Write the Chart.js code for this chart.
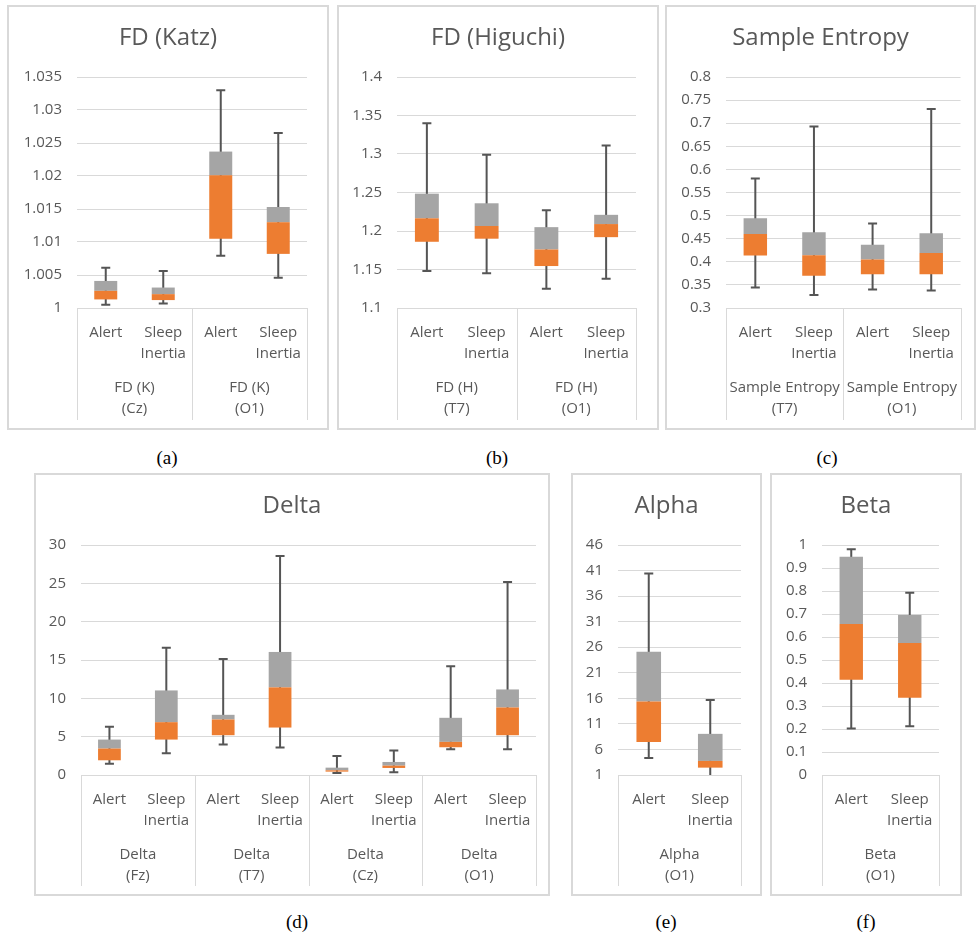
<!DOCTYPE html>
<html lang="en">
<head>
  <meta charset="UTF-8">
  <title>EEG features: Alert vs Sleep Inertia</title>
  <script src="https://cdn.jsdelivr.net/npm/chart.js"></script>
  <style>
    body {
      margin: 0;
      width: 977px;
      height: 936px;
      position: relative;
      overflow: hidden;
      background: #fff;
    }

    /* Excel-like chart frames */
    .panel {
      position: absolute;
      box-sizing: border-box;
      border: 2px solid #d9d9d9;
    }

    .panel canvas {
      position: absolute;
      left: 0;
      top: 0;
    }

    .caption {
      position: absolute;
      width: 60px;
      margin-left: -30px;
      text-align: center;
      font-family: 'Liberation Serif', 'Times New Roman', serif;
      font-size: 19px;
      line-height: 22px;
      color: #000;
    }
  </style>
</head>
<body>

  <div class="panel" style="left:7px; top:5px; width:322px; height:425px;"><canvas id="katzChart"></canvas></div>
  <div class="panel" style="left:337px; top:5px; width:322px; height:425px;"><canvas id="higuchiChart"></canvas></div>
  <div class="panel" style="left:665px; top:5px; width:311px; height:425px;"><canvas id="entropyChart"></canvas></div>
  <div class="panel" style="left:34px; top:473px; width:516px; height:423px;"><canvas id="deltaChart"></canvas></div>
  <div class="panel" style="left:571px; top:473px; width:191px; height:423px;"><canvas id="alphaChart"></canvas></div>
  <div class="panel" style="left:770px; top:473px; width:192px; height:423px;"><canvas id="betaChart"></canvas></div>

  <div class="caption" style="left:167px; top:447px;">(a)</div>
  <div class="caption" style="left:497px; top:447px;">(b)</div>
  <div class="caption" style="left:827px; top:447px;">(c)</div>
  <div class="caption" style="left:297px; top:911px;">(d)</div>
  <div class="caption" style="left:666px; top:911px;">(e)</div>
  <div class="caption" style="left:866px; top:911px;">(f)</div>

  <script>
    // condition labels under every box
    const conditionLabels = ['Alert', ['Sleep', 'Inertia']];

    // (a) FD (Katz)
    const katzGroups = [['FD (K)', '(Cz)'], ['FD (K)', '(O1)']];
    const katzMin = [1.0005, 1.0007, 1.0079, 1.0046];
    const katzQ1 = [1.0013, 1.0012, 1.0105, 1.0082];
    const katzMed = [1.0026, 1.0021, 1.0201, 1.0130];
    const katzQ3 = [1.0041, 1.0031, 1.0237, 1.0153];
    const katzMax = [1.0061, 1.0056, 1.0330, 1.0265];
    const katzTicks = [1, 1.005, 1.01, 1.015, 1.02, 1.025, 1.03, 1.035];

    // (b) FD (Higuchi)
    const higuchiGroups = [['FD (H)', '(T7)'], ['FD (H)', '(O1)']];
    const higuchiMin = [1.148, 1.145, 1.125, 1.138];
    const higuchiQ1 = [1.186, 1.190, 1.1545, 1.192];
    const higuchiMed = [1.2165, 1.2065, 1.176, 1.209];
    const higuchiQ3 = [1.2485, 1.236, 1.205, 1.221];
    const higuchiMax = [1.340, 1.299, 1.227, 1.311];
    const higuchiTicks = [1.1, 1.15, 1.2, 1.25, 1.3, 1.35, 1.4];

    // (c) Sample Entropy
    const entropyGroups = [['Sample Entropy', '(T7)'], ['Sample Entropy', '(O1)']];
    const entropyMin = [0.3445, 0.328, 0.340, 0.338];
    const entropyQ1 = [0.4135, 0.370, 0.373, 0.373];
    const entropyMed = [0.460, 0.414, 0.405, 0.419];
    const entropyQ3 = [0.494, 0.464, 0.437, 0.462];
    const entropyMax = [0.5805, 0.693, 0.483, 0.731];
    const entropyTicks = [0.3, 0.35, 0.4, 0.45, 0.5, 0.55, 0.6, 0.65, 0.7, 0.75, 0.8];

    // (d) Delta
    const deltaGroups = [['Delta', '(Fz)'], ['Delta', '(T7)'], ['Delta', '(Cz)'], ['Delta', '(O1)']];
    const deltaMin = [1.48, 2.83, 3.97, 3.58, 0.26, 0.35, 3.36, 3.36];
    const deltaQ1 = [1.92, 4.62, 5.19, 6.19, 0.44, 0.92, 3.62, 5.19];
    const deltaMed = [3.45, 6.89, 7.24, 11.43, 0.61, 1.22, 4.32, 8.81];
    const deltaQ3 = [4.62, 11.03, 7.85, 16.05, 0.96, 1.70, 7.46, 11.16];
    const deltaMax = [6.28, 16.6, 15.13, 28.56, 2.49, 3.18, 14.17, 25.16];
    const deltaTicks = [0, 5, 10, 15, 20, 25, 30];

    // (e) Alpha
    const alphaGroups = [['Alpha', '(O1)']];
    const alphaMin = [4.34, 0.5];
    const alphaQ1 = [7.48, 2.44];
    const alphaMed = [15.4, 3.75];
    const alphaQ3 = [25.1, 9.05];
    const alphaMax = [40.4, 15.67];
    const alphaTicks = [1, 6, 11, 16, 21, 26, 31, 36, 41, 46];

    // (f) Beta
    const betaGroups = [['Beta', '(O1)']];
    const betaMin = [0.202, 0.212];
    const betaQ1 = [0.414, 0.336];
    const betaMed = [0.657, 0.574];
    const betaQ3 = [0.949, 0.696];
    const betaMax = [0.981, 0.792];
    const betaTicks = [0, 0.1, 0.2, 0.3, 0.4, 0.5, 0.6, 0.7, 0.8, 0.9, 1];

    const FONT = "'Open Sans', 'Noto Sans', sans-serif";
    const TEXT = '#595959';
    const LINE = '#d9d9d9';

    // whiskers drawn under the boxes, through the y scale
    const whiskerPlugin = {
      id: 'whiskers',
      beforeDatasetsDraw(chart, args, opts) {
        const ctx = chart.ctx;
        const y = chart.scales.y;
        const area = chart.chartArea;
        const bars = chart.getDatasetMeta(0).data;
        ctx.save();
        ctx.beginPath();
        ctx.rect(area.left, area.top, area.right - area.left, area.bottom - area.top);
        ctx.clip();
        ctx.strokeStyle = opts.color;
        ctx.lineWidth = opts.width;
        bars.forEach((bar, i) => {
          const lo = y.getPixelForValue(opts.lo[i]);
          const hi = y.getPixelForValue(opts.hi[i]);
          ctx.beginPath();
          ctx.moveTo(bar.x, lo);
          ctx.lineTo(bar.x, hi);
          ctx.moveTo(bar.x - opts.cap, lo);
          ctx.lineTo(bar.x + opts.cap, lo);
          ctx.moveTo(bar.x - opts.cap, hi);
          ctx.lineTo(bar.x + opts.cap, hi);
          ctx.stroke();
        });
        ctx.restore();
      }
    };

    // vertical separators of the two-level category axis
    const separatorPlugin = {
      id: 'separators',
      afterDraw(chart) {
        const ctx = chart.ctx;
        const x = chart.scales.x;
        const x2 = chart.scales.x2;
        const n = x2.getLabels().length;
        const per = x.getLabels().length / n;
        ctx.save();
        ctx.strokeStyle = LINE;
        ctx.lineWidth = 1;
        for (let g = 0; g <= n; g++) {
          const px = Math.round(x.getPixelForValue(g * per - 0.5)) + 0.5;
          ctx.beginPath();
          ctx.moveTo(px, chart.chartArea.bottom);
          ctx.lineTo(px, x2.bottom);
          ctx.stroke();
        }
        ctx.restore();
      }
    };

    function boxChart(id, title, groups, mins, q1s, meds, q3s, maxs, ticks, box) {
      const canvas = document.getElementById(id);
      const ox = box.left + 2, oy = box.top + 2;
      canvas.width = box.w - 4;
      canvas.height = box.h - 4;
      const labels = groups.flatMap(() => conditionLabels);
      const titleTop = box.top + 33 - oy - 14.4;
      const xHeight = 56;
      const rightGap = (box.left + box.w - 2) - box.plotR;

      return new Chart(canvas, {
        type: 'bar',
        data: {
          labels: labels,
          datasets: [
            {
              data: q1s.map((v, i) => [v, meds[i]]),
              backgroundColor: '#ED7D31',
              borderWidth: 0
            },
            {
              data: meds.map((v, i) => [v, q3s[i]]),
              backgroundColor: '#A5A5A5',
              borderWidth: 0
            }
          ]
        },
        options: {
          responsive: false,
          animation: false,
          devicePixelRatio: 1,
          grouped: false,
          categoryPercentage: 1,
          barPercentage: 0.4,
          layout: {
            padding: { left: 0, top: 0, right: 0, bottom: (box.top + box.h - 2) - box.catB }
          },
          plugins: {
            legend: { display: false },
            tooltip: { enabled: false },
            title: {
              display: true,
              text: title,
              color: TEXT,
              font: { family: FONT, size: 24, weight: 'normal', lineHeight: 1.2 },
              padding: { top: titleTop, bottom: (box.plotT - oy) - titleTop - 28.8 }
            },
            whiskers: { lo: mins, hi: maxs, color: '#555555', width: 2, cap: 4.5 }
          },
          scales: {
            y: {
              min: ticks[0],
              max: ticks[ticks.length - 1],
              afterBuildTicks: s => { s.ticks = ticks.map(v => ({ value: v })); },
              afterFit: s => { s.width = box.plotL - ox; },
              ticks: {
                callback: v => String(v),
                color: TEXT,
                padding: 15,
                font: { family: FONT, size: 15 }
              },
              grid: { color: LINE, lineWidth: 1, drawTicks: false },
              border: { display: false }
            },
            // empty right gutter so the title stays centred on the frame
            gutter: {
              type: 'linear',
              position: 'right',
              afterFit: s => { s.width = rightGap; },
              ticks: { display: false },
              grid: { display: false, drawTicks: false },
              border: { display: false }
            },
            x: {
              weight: 0,
              afterFit: s => { s.height = xHeight; },
              ticks: {
                autoSkip: false,
                maxRotation: 0,
                color: TEXT,
                padding: 14.5,
                font: { family: FONT, size: 15, lineHeight: 1.4 }
              },
              grid: { display: false, drawTicks: false },
              border: { display: true, color: LINE, width: 1 }
            },
            x2: {
              type: 'category',
              position: 'bottom',
              weight: 1,
              offset: true,
              labels: groups,
              afterFit: s => { s.height = box.catB - box.plotB - xHeight; },
              ticks: {
                autoSkip: false,
                maxRotation: 0,
                color: TEXT,
                padding: 13.5,
                font: { family: FONT, size: 15, lineHeight: 1.4 }
              },
              grid: { display: false, drawTicks: false },
              border: { display: false }
            }
          }
        },
        plugins: [whiskerPlugin, separatorPlugin]
      });
    }

    boxChart('katzChart', 'FD (Katz)', katzGroups, katzMin, katzQ1, katzMed, katzQ3, katzMax, katzTicks,
      { left: 7, top: 5, w: 322, h: 425, plotL: 77, plotR: 307, plotT: 77, plotB: 308, catB: 420 });

    boxChart('higuchiChart', 'FD (Higuchi)', higuchiGroups, higuchiMin, higuchiQ1, higuchiMed, higuchiQ3, higuchiMax, higuchiTicks,
      { left: 337, top: 5, w: 322, h: 425, plotL: 397, plotR: 636, plotT: 77, plotB: 308, catB: 420 });

    boxChart('entropyChart', 'Sample Entropy', entropyGroups, entropyMin, entropyQ1, entropyMed, entropyQ3, entropyMax, entropyTicks,
      { left: 665, top: 5, w: 311, h: 425, plotL: 726, plotR: 966, plotT: 77, plotB: 308, catB: 420 });

    boxChart('deltaChart', 'Delta', deltaGroups, deltaMin, deltaQ1, deltaMed, deltaQ3, deltaMax, deltaTicks,
      { left: 34, top: 473, w: 516, h: 423, plotL: 81, plotR: 536, plotT: 545, plotB: 775, catB: 886 });

    boxChart('alphaChart', 'Alpha', alphaGroups, alphaMin, alphaQ1, alphaMed, alphaQ3, alphaMax, alphaTicks,
      { left: 571, top: 473, w: 191, h: 423, plotL: 618, plotR: 741, plotT: 545, plotB: 775, catB: 886 });

    boxChart('betaChart', 'Beta', betaGroups, betaMin, betaQ1, betaMed, betaQ3, betaMax, betaTicks,
      { left: 770, top: 473, w: 192, h: 423, plotL: 822, plotR: 939, plotT: 545, plotB: 775, catB: 886 });
  </script>
</body>
</html>
